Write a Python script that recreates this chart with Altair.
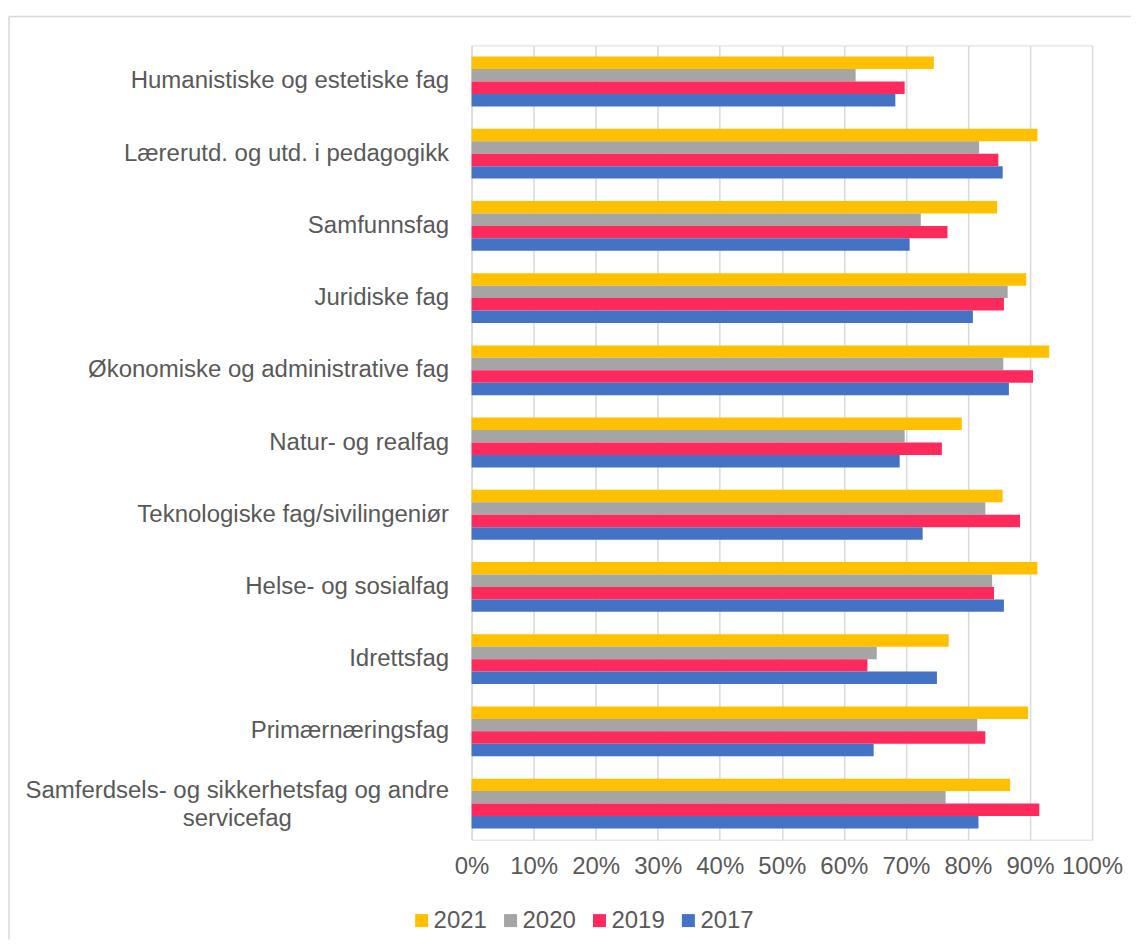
import altair as alt
import pandas as pd

categories = [
    "Humanistiske og estetiske fag",
    "Lærerutd. og utd. i pedagogikk",
    "Samfunnsfag",
    "Juridiske fag",
    "Økonomiske og administrative fag",
    "Natur- og realfag",
    "Teknologiske fag/sivilingeniør",
    "Helse- og sosialfag",
    "Idrettsfag",
    "Primærnæringsfag",
    "Samferdsels- og sikkerhetsfag og andre servicefag",
]
years = ["2021", "2020", "2019", "2017"]
v2021 = [74.5, 91.2, 84.7, 89.4, 93.1, 79.0, 85.6, 91.2, 76.9, 89.7, 86.8]
v2020 = [61.9, 81.8, 72.4, 86.4, 85.7, 69.8, 82.8, 83.9, 65.3, 81.5, 76.4]
v2019 = [69.8, 84.9, 76.7, 85.8, 90.5, 75.8, 88.4, 84.2, 63.8, 82.8, 91.5]
v2017 = [68.3, 85.6, 70.6, 80.8, 86.6, 69.0, 72.7, 85.8, 75.0, 64.8, 81.7]
colors = ["#FFC000", "#A5A5A5", "#FF2A5C", "#4472C4"]

rows = []
for yr, vals in zip(years, [v2021, v2020, v2019, v2017]):
    for c, v in zip(categories, vals):
        rows.append({"cat": c, "year": yr, "value": v / 100})
df = pd.DataFrame(rows)

LONG = "Samferdsels- og sikkerhetsfag og andre servicefag"
label_expr = (f"datum.label == '{LONG}' ? "
              "['Samferdsels- og sikkerhetsfag og andre', 'servicefag'] : datum.label")
test = f"datum.value == '{LONG}'"

FONT = "Liberation Sans"
TXT = "#595959"
FS = 24

bars = alt.Chart(df).mark_bar().encode(
    y=alt.Y("cat:N", sort=categories, title=None,
            scale=alt.Scale(paddingInner=0.31, paddingOuter=0.155),
            axis=alt.Axis(labelExpr=label_expr, labelFontSize=FS, labelColor=TXT,
                          labelFont=FONT, ticks=False, domain=False,
                          labelAlign={"condition": {"test": test, "value": "center"}, "value": "right"},
                          labelPadding={"condition": {"test": test, "value": 235}, "value": 23},
                          labelOffset={"condition": {"test": test, "value": -13}, "value": 0},
                          labelLimit=600, labelLineHeight=28)),
    yOffset=alt.YOffset("year:N", sort=years, scale=alt.Scale(paddingInner=0, paddingOuter=0)),
    x=alt.X("value:Q", scale=alt.Scale(domain=[0, 1]), title=None,
            axis=alt.Axis(format=".0%", values=[i / 10 for i in range(11)], labelFontSize=FS,
                          labelColor=TXT, labelFont=FONT, ticks=False,
                          domain=False, grid=True, gridColor="#D9D9D9", gridWidth=1.5,
                          labelPadding=15, labelFlush=False, labelOverlap=False)),
    color=alt.Color("year:N", sort=years, scale=alt.Scale(domain=years, range=colors),
                    legend=alt.Legend(title=None, orient="none", direction="horizontal",
                                      legendX=-62, legendY=864, symbolType="square",
                                      symbolSize=169, symbolStrokeWidth=0,
                                      labelFontSize=FS, labelColor=TXT,
                                      labelFont=FONT, columnPadding=11,
                                      labelOffset=0)),
)

frame_src = alt.Chart(pd.DataFrame({"k": [0]}))
left_rule = frame_src.mark_rule(color="#D9D9D9", strokeWidth=1.5).encode(
    x=alt.value(-463), y=alt.value(-29), y2=alt.value(895))
top_rule = frame_src.mark_rule(color="#D9D9D9", strokeWidth=1.5).encode(
    x=alt.value(-463), x2=alt.value(660), y=alt.value(-29))

chart = alt.layer(left_rule, top_rule, bars).properties(width=621, height=795).configure_view(
    stroke=None
).configure(padding={"left": 0, "top": 7, "right": 0, "bottom": 0})

chart.save("out.html", embed_options={"renderer": "svg", "actions": False})
